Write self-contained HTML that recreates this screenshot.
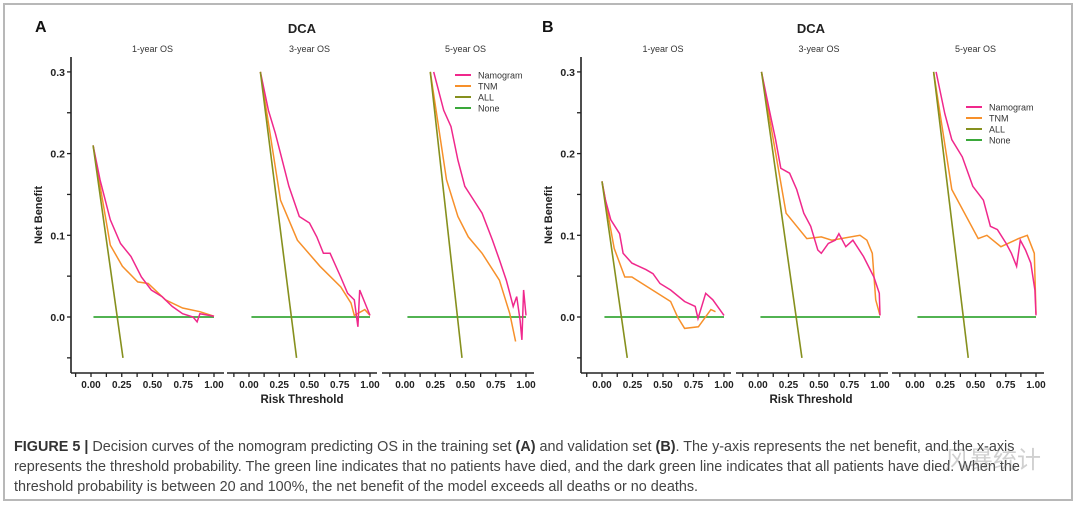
<!DOCTYPE html>
<html><head><meta charset="utf-8">
<style>
html,body{margin:0;padding:0;background:#fff;}
body{width:1080px;height:506px;overflow:hidden;position:relative;font-family:"Liberation Sans","Noto Sans CJK SC",sans-serif;}
#frame{position:absolute;left:3px;top:3px;width:1070px;height:498px;border:2px solid #b8b8b8;box-sizing:border-box;}
#caption{position:absolute;left:14px;top:437px;font-size:14.4px;line-height:20px;color:#444;white-space:nowrap;}
#caption b{color:#333;}
#wm{position:absolute;left:945px;top:440px;font-size:24px;color:rgba(120,120,120,0.35);}
</style></head>
<body>
<div id="frame"></div>
<svg id="chart" width="1080" height="430" style="position:absolute;left:0;top:0" font-family="Liberation Sans, sans-serif"></svg>
<div id="caption"><b>FIGURE 5 |</b> Decision curves of the nomogram predicting OS in the training set <b>(A)</b> and validation set <b>(B)</b>. The y-axis represents the net benefit, and the x-axis<br>represents the threshold probability. The green line indicates that no patients have died, and the dark green line indicates that all patients have died. When the<br>threshold probability is between 20 and 100%, the net benefit of the model exceeds all deaths or no deaths.</div>
<div id="wm">风暴统计</div>
<script>
// ---- data ----
const subtitles = ["1-year OS","3-year OS","5-year OS"];
const yTicks = [0.0,0.1,0.2,0.3];
const xTicks = [0.00,0.25,0.50,0.75,1.00];
const seriesNames = ["Namogram","TNM","ALL","None"];
// Panel A (training)
const A1_nom_x=[0.017,0.073,0.157,0.24,0.325,0.41,0.49,0.577,0.66,0.745,0.83,0.863,0.885,1.0];
const A1_nom_y=[0.21,0.168,0.119,0.09,0.074,0.049,0.033,0.025,0.013,0.004,0.0,-0.006,0.004,0.001];
const A1_tnm_x=[0.017,0.157,0.255,0.38,0.465,0.605,0.745,0.885,1.0];
const A1_tnm_y=[0.21,0.088,0.062,0.043,0.041,0.021,0.011,0.0065,0.001];
const A1_all=[[0.017,0.21],[0.26,-0.05]];
const A2_nom_x=[0.094,0.16,0.217,0.274,0.33,0.416,0.5,0.56,0.615,0.67,0.758,0.815,0.87,0.9,0.915,1.0];
const A2_nom_y=[0.30,0.253,0.225,0.192,0.16,0.123,0.115,0.098,0.078,0.078,0.049,0.029,0.021,-0.012,0.033,0.002];
const A2_tnm_x=[0.094,0.26,0.40,0.587,0.758,0.843,0.87,0.957,1.0];
const A2_tnm_y=[0.30,0.143,0.094,0.062,0.037,0.017,0.002,0.009,0.002];
const A2_all=[[0.094,0.30],[0.393,-0.05]];
const A3_nom_x=[0.237,0.32,0.38,0.437,0.494,0.55,0.637,0.723,0.78,0.837,0.866,0.894,0.923,0.951,0.966,0.98,1.0];
const A3_nom_y=[0.30,0.253,0.233,0.192,0.16,0.147,0.127,0.094,0.07,0.045,0.029,0.013,0.025,-0.004,-0.028,0.033,0.002];
const A3_tnm_x=[0.209,0.343,0.437,0.523,0.637,0.78,0.866,0.914];
const A3_tnm_y=[0.30,0.168,0.123,0.098,0.078,0.045,0.004,-0.03];
const A3_all=[[0.209,0.30],[0.471,-0.05]];
// Panel B (validation)
const B1_nom_x=[0.0,0.029,0.072,0.144,0.173,0.245,0.36,0.418,0.475,0.562,0.677,0.764,0.787,0.85,0.908,1.0];
const B1_nom_y=[0.166,0.143,0.119,0.102,0.078,0.066,0.058,0.053,0.041,0.033,0.019,0.013,-0.002,0.029,0.021,0.002];
const B1_tnm_x=[0.0,0.10,0.187,0.245,0.562,0.62,0.677,0.79,0.893,0.93];
const B1_tnm_y=[0.166,0.084,0.049,0.049,0.019,0.0,-0.014,-0.012,0.009,0.0065];
const B1_all=[[0.0,0.166],[0.207,-0.05]];
const B2_nom_x=[0.029,0.086,0.144,0.187,0.259,0.317,0.375,0.432,0.49,0.519,0.576,0.634,0.663,0.72,0.778,0.865,0.95,0.994,1.0];
const B2_nom_y=[0.30,0.258,0.217,0.182,0.176,0.156,0.127,0.111,0.082,0.078,0.09,0.094,0.102,0.086,0.094,0.074,0.049,0.029,0.002];
const B2_tnm_x=[0.029,0.23,0.40,0.519,0.605,0.836,0.893,0.937,0.965,1.0];
const B2_tnm_y=[0.30,0.127,0.096,0.098,0.094,0.10,0.094,0.078,0.021,0.002];
const B2_all=[[0.029,0.30],[0.36,-0.05]];
const B3_nom_x=[0.174,0.246,0.304,0.391,0.478,0.565,0.623,0.681,0.754,0.797,0.84,0.87,0.913,0.957,0.991,1.0];
const B3_nom_y=[0.30,0.249,0.217,0.196,0.16,0.143,0.111,0.107,0.09,0.078,0.062,0.094,0.082,0.066,0.033,0.002];
const B3_tnm_x=[0.154,0.304,0.522,0.594,0.71,0.855,0.928,0.986,1.0];
const B3_tnm_y=[0.30,0.156,0.096,0.10,0.086,0.096,0.10,0.078,0.004];
const B3_all=[[0.154,0.30],[0.44,-0.05]];

const colors={nom:"#f0288c",tnm:"#f7902a",all:"#86901e",none:"#3aa83a"};
const NS="http://www.w3.org/2000/svg";
const svg=document.getElementById('chart');
function el(tag,attrs,parent,text){const e=document.createElementNS(NS,tag);for(const k in attrs)e.setAttribute(k,attrs[k]);if(text!==undefined)e.textContent=text;(parent||svg).appendChild(e);return e;}

const yZero=317, yPer=817;
function ys(v){return yZero - v*yPer;}

const panels=[
 {id:"a",letter:"A",lx:35,axisX:71,titleX:302,nbX:38,
  subs:[{x0:91,x1:214,seg:[71,224]},{x0:249,x1:370,seg:[227,377]},{x0:405,x1:526,seg:[382,534]}],
  data:[[A1_nom_x,A1_nom_y,A1_tnm_x,A1_tnm_y,A1_all],[A2_nom_x,A2_nom_y,A2_tnm_x,A2_tnm_y,A2_all],[A3_nom_x,A3_nom_y,A3_tnm_x,A3_tnm_y,A3_all]],
  legend:{x:455,y:75}},
 {id:"b",letter:"B",lx:542,axisX:581,titleX:811,nbX:548,
  subs:[{x0:602,x1:724,seg:[581,731]},{x0:758,x1:880,seg:[736,888]},{x0:915,x1:1036,seg:[892,1044]}],
  data:[[B1_nom_x,B1_nom_y,B1_tnm_x,B1_tnm_y,B1_all],[B2_nom_x,B2_nom_y,B2_tnm_x,B2_tnm_y,B2_all],[B3_nom_x,B3_nom_y,B3_tnm_x,B3_tnm_y,B3_all]],
  legend:{x:966,y:107}}
];

panels.forEach(p=>{
  const g=el('g',{});
  
  
  const L=el('text',{x:p.lx,y:32,'font-size':16,'font-weight':'bold',fill:'#111'},g,p.letter);
  
  
  const T=el('text',{x:p.titleX,y:33,'font-size':13,'font-weight':'bold','text-anchor':'middle',fill:'#222'},g,"DCA");
  
  
  const ya=el('line',{x1:p.axisX,y1:57,x2:p.axisX,y2:373,stroke:'#222','stroke-width':1.6},g);
  
  
  for(let k=-1;k<=6;k++){
    const v=k*0.05;
    el('line',{x1:p.axisX-4,y1:ys(v),x2:p.axisX,y2:ys(v),stroke:'#222','stroke-width':1.3},g);
  }
  yTicks.forEach(v=>{
    const t=el('text',{x:p.axisX-6,y:ys(v)+4,'font-size':10.5,'font-weight':'bold','text-anchor':'end',fill:'#222'},g,v.toFixed(1));
    
    
  });
  const yt=el('text',{x:0,y:0,'font-size':11,'font-weight':'bold','text-anchor':'middle',fill:'#222',transform:`translate(${p.nbX+4},215) rotate(-90)`},g,"Net Benefit");
  
  
  const xt=el('text',{x:p.titleX,y:403,'font-size':11.5,'font-weight':'bold','text-anchor':'middle',fill:'#222'},g,"Risk Threshold");
  
  

  p.subs.forEach((s,i)=>{
    const xs=v=>s.x0+v*(s.x1-s.x0);
    const sg=el('g',{},g);
    
    
    const st=el('text',{x:(s.x0+s.x1)/2,y:52,'font-size':9,'text-anchor':'middle',fill:'#333'},sg,subtitles[i]);
    
    
    const xa=el('line',{x1:s.seg[0],y1:373,x2:s.seg[1],y2:373,stroke:'#222','stroke-width':1.6},sg);
    
    
    for(let k=-1;k<=9;k++){
      const px=xs(k*0.125); if(px<s.seg[0]-0.5||px>s.seg[1]+0.5)continue;
      el('line',{x1:px,y1:373,x2:px,y2:377,stroke:'#222','stroke-width':1.3},sg);
    }
    xTicks.forEach(v=>{
      const t=el('text',{x:xs(v),y:388,'font-size':10,'font-weight':'bold','text-anchor':'middle',fill:'#222'},sg,v.toFixed(2));
      
      
    });
    const d=p.data[i];
    const nl=el('line',{x1:xs(0.02),y1:ys(0),x2:xs(1),y2:ys(0),stroke:colors.none,'stroke-width':1.8},sg);
    
    
    const pts=(X,Y)=>X.map((x,k)=>xs(x).toFixed(1)+','+ys(Y[k]).toFixed(1)).join(' ');
    const tn=el('polyline',{points:pts(d[2],d[3]),fill:'none',stroke:colors.tnm,'stroke-width':1.5},sg);
    
    
    const nm=el('polyline',{points:pts(d[0],d[1]),fill:'none',stroke:colors.nom,'stroke-width':1.5},sg);
    
    
    const al=el('line',{x1:xs(d[4][0][0]),y1:ys(d[4][0][1]),x2:xs(d[4][1][0]),y2:ys(d[4][1][1]),stroke:colors.all,'stroke-width':1.6},sg);
    
    
  });
  const lg=el('g',{},g);
  
  
  [colors.nom,colors.tnm,colors.all,colors.none].forEach((c,k)=>{
    const y=p.legend.y+k*11;
    el('line',{x1:p.legend.x,y1:y,x2:p.legend.x+16,y2:y,stroke:c,'stroke-width':2},lg);
    const t=el('text',{x:p.legend.x+23,y:y+3.5,'font-size':9,fill:'#333'},lg,seriesNames[k]);
    
    
  });
});
</script>
</body></html>
